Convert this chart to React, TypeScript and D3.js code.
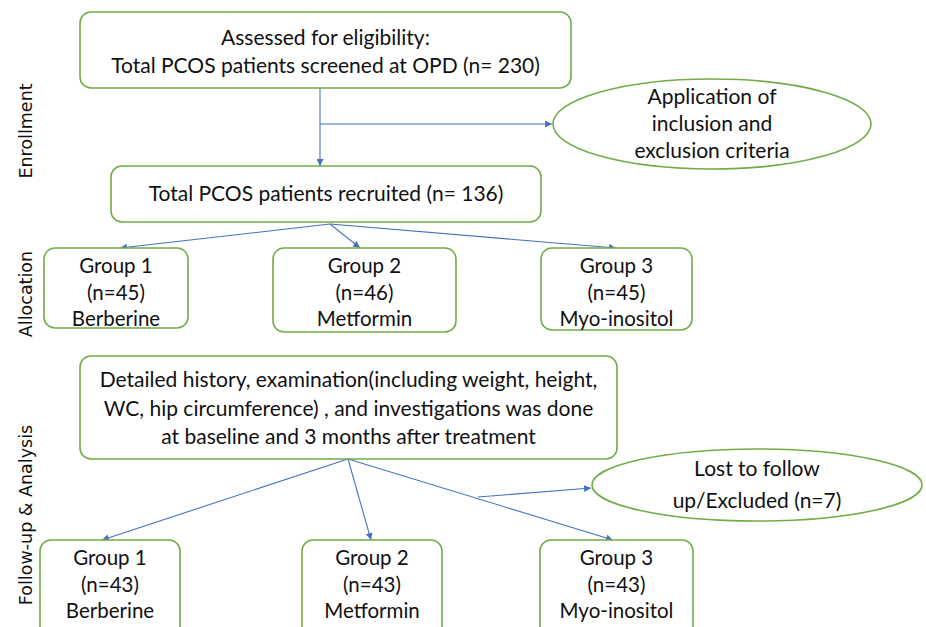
import React, { useEffect, useRef } from 'react';
import * as d3 from 'd3';

// flowchart content
const screenedLines = ['Assessed for eligibility:', 'Total PCOS patients screened at OPD (n= 230)'];
const criteriaLines = ['Application of', 'inclusion and', 'exclusion criteria'];
const recruitedLines = ['Total PCOS patients recruited (n= 136)'];
const followLines = [
  'Detailed history, examination(including weight, height,',
  'WC, hip circumference) , and investigations was done',
  'at baseline and 3 months after treatment',
];
const lostLines = ['Lost to follow', 'up/Excluded (n=7)'];
const groupNames = ['Group 1', 'Group 2', 'Group 3'];
const drugs = ['Berberine', 'Metformin', 'Myo-inositol'];
const allocated = [45, 46, 45];
const analysed = [43, 43, 43];
const phases = ['Enrollment', 'Allocation', 'Follow-up & Analysis'];

const GREEN = '#70ad47';
const BLUE = '#4472c4';
const FONT = 'Lato, "Open Sans", sans-serif';

const App = () => {
  const svgRef = useRef(null);

  useEffect(() => {
    const svg = d3.select(svgRef.current);
    svg.selectAll('*').remove();

    svg
      .append('defs')
      .append('marker')
      .attr('id', 'arr')
      .attr('viewBox', '0 0 10 10')
      .attr('refX', 10)
      .attr('refY', 5)
      .attr('markerWidth', 7)
      .attr('markerHeight', 7)
      .attr('markerUnits', 'userSpaceOnUse')
      .attr('orient', 'auto')
      .append('path')
      .attr('d', 'M0,0L10,5L0,10Z')
      .attr('fill', BLUE);

    const box = (x, y, w, h, lines, cy, gap, size) => {
      svg
        .append('rect')
        .attr('x', x)
        .attr('y', y)
        .attr('width', w)
        .attr('height', h)
        .attr('rx', 11)
        .attr('fill', 'white')
        .attr('stroke', GREEN)
        .attr('stroke-width', 1.6);
      lines.forEach((t, i) => {
        svg
          .append('text')
          .attr('x', x + w / 2)
          .attr('y', cy + i * gap)
          .attr('dy', '0.35em')
          .attr('text-anchor', 'middle')
          .style('font-family', FONT)
          .style('font-size', size + 'px')
          .attr('fill', '#111')
          .text(t);
      });
    };

    const ellipse = (cx, cy, rx, ry, lines, gap, size) => {
      svg
        .append('ellipse')
        .attr('cx', cx)
        .attr('cy', cy)
        .attr('rx', rx)
        .attr('ry', ry)
        .attr('fill', 'white')
        .attr('stroke', GREEN)
        .attr('stroke-width', 1.6);
      const y0 = cy - ((lines.length - 1) * gap) / 2;
      lines.forEach((t, i) => {
        svg
          .append('text')
          .attr('x', cx)
          .attr('y', y0 + i * gap)
          .attr('dy', '0.35em')
          .attr('text-anchor', 'middle')
          .style('font-family', FONT)
          .style('font-size', size + 'px')
          .attr('fill', '#111')
          .text(t);
      });
    };

    const arrow = (x1, y1, x2, y2) => {
      svg
        .append('line')
        .attr('x1', x1)
        .attr('y1', y1)
        .attr('x2', x2)
        .attr('y2', y2)
        .attr('stroke', BLUE)
        .attr('stroke-width', 1.1)
        .attr('marker-end', 'url(#arr)');
    };

    // enrollment
    arrow(320, 88, 320, 166);
    arrow(320, 124, 552, 124);
    box(80, 12, 491, 76, screenedLines, 38, 28, 21);
    ellipse(712, 124, 159, 45, criteriaLines, 27, 21);
    box(111, 166, 430, 56, recruitedLines, 194, 0, 21);

    // allocation
    const allocBoxes = [
      { x: 44, y: 248, w: 144, h: 80, tip: [120, 248] },
      { x: 273, y: 248, w: 183, h: 84, tip: [360, 248] },
      { x: 541, y: 248, w: 151, h: 82, tip: [616, 248] },
    ];
    allocBoxes.forEach((b) => arrow(330, 224, b.tip[0], b.tip[1]));
    allocBoxes.forEach((b, i) =>
      box(b.x, b.y, b.w, b.h, [groupNames[i], `(n=${allocated[i]})`, drugs[i]], b.y + 18, 26.5, 20.5)
    );

    // follow-up
    const finalBoxes = [
      { x: 40, y: 540, w: 140, h: 100, tip: [102, 540] },
      { x: 302, y: 540, w: 140, h: 100, tip: [371, 540] },
      { x: 540, y: 540, w: 153, h: 100, tip: [613, 540] },
    ];
    finalBoxes.forEach((b) => arrow(348, 459, b.tip[0], b.tip[1]));
    arrow(478, 497, 591, 488);
    box(80, 356, 537, 103, followLines, 380, 28.5, 21);
    ellipse(757, 485, 165, 36, lostLines, 32, 21);
    finalBoxes.forEach((b, i) =>
      box(b.x, b.y, b.w, b.h, [groupNames[i], `(n=${analysed[i]})`, drugs[i]], b.y + 18, 26.5, 20.5)
    );

    // phase labels
    const phaseY = [131, 294, 515];
    phases.forEach((p, i) => {
      svg
        .append('text')
        .attr('transform', `translate(26, ${phaseY[i]}) rotate(-90)`)
        .attr('dy', '0.35em')
        .attr('text-anchor', 'middle')
        .style('font-family', '"DejaVu Sans", sans-serif')
        .style('font-size', '17.5px')
        .attr('fill', '#111')
        .text(p);
    });
  }, []);

  return (
    <svg
      ref={svgRef}
      width={926}
      height={627}
      style={{ position: 'absolute', left: 0, top: 0, background: 'white' }}
    />
  );
};

export default App;
